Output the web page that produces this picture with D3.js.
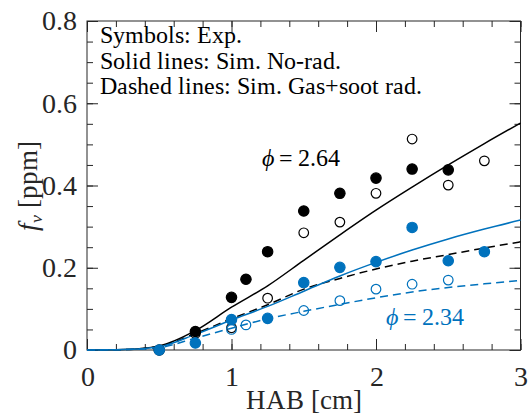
<!DOCTYPE html>
<html>
<head>
<meta charset="utf-8">
<script src="https://cdn.jsdelivr.net/npm/d3@7"></script>
<style>
  @font-face { font-family: "PlotSerif"; src: local("Liberation Serif"), local("LiberationSerif"), local("LiberationSerif-Regular"); font-style: normal; }
  @font-face { font-family: "PlotSerif"; src: local("Liberation Serif Italic"), local("LiberationSerif-Italic"); font-style: italic; }
  svg text { font-family: "PlotSerif", "Liberation Serif", "Times New Roman", serif; }
</style>
</head>
<body style="margin:0">
<script>
// tick values and labels
const xTicks = [0, 1, 2, 3]
const yTicks = [0, 0.2, 0.4, 0.6, 0.8]
const yTickLabels = ["0", "0.2", "0.4", "0.6", "0.8"]

// simulation grid (HAB, cm)
const simX = [0, 0.25, 0.5, 0.75, 1.0, 1.25, 1.5, 1.75, 2.0, 2.25, 2.5, 2.75, 3.0]
// phi = 2.64
const blackSolid  = [0, 0.001, 0.010, 0.047, 0.104, 0.156, 0.218, 0.280, 0.340, 0.396, 0.450, 0.502, 0.552]
const blackDashed = [0, 0.001, 0.009, 0.040, 0.076, 0.110, 0.148, 0.174, 0.197, 0.216, 0.232, 0.248, 0.263]
// phi = 2.34
const blueSolid   = [0, 0.001, 0.008, 0.038, 0.073, 0.106, 0.143, 0.180, 0.213, 0.243, 0.270, 0.294, 0.316]
const blueDashed  = [0, 0.001, 0.006, 0.029, 0.053, 0.076, 0.094, 0.111, 0.127, 0.141, 0.152, 0.161, 0.169]

// experiments
const blackFilledX = [0.5, 0.75, 1.0, 1.1, 1.25, 1.5, 1.75, 2.0, 2.25, 2.5]
const blackFilledY = [0.0, 0.045, 0.128, 0.172, 0.239, 0.338, 0.381, 0.418, 0.440, 0.438]
const blackOpenX = [0.75, 1.0, 1.25, 1.5, 1.75, 2.0, 2.25, 2.5, 2.75]
const blackOpenY = [0.040, 0.054, 0.126, 0.285, 0.311, 0.381, 0.513, 0.401, 0.460]
const blueFilledX = [0.5, 0.75, 1.0, 1.25, 1.5, 1.75, 2.0, 2.25, 2.5, 2.75]
const blueFilledY = [0.0, 0.017, 0.074, 0.077, 0.164, 0.201, 0.215, 0.298, 0.217, 0.239]
const blueOpenX = [1.0, 1.1, 1.5, 1.75, 2.0, 2.25, 2.5]
const blueOpenY = [0.050, 0.061, 0.096, 0.120, 0.148, 0.160, 0.170]

const legendLines = ["Symbols: Exp.", "Solid lines: Sim. No-rad.", "Dashed lines: Sim. Gas+soot rad."]

const w = 528
const h = 420
const blue = "#0072BD"
const black = "#000000"
const axisColor = "#262626"

const scaleX = d3.scaleLinear().domain([0, 3]).range([87, 520.5])
const scaleY = d3.scaleLinear().domain([0, 0.8]).range([350, 21])

const svg = d3.select("body").append("svg")
  .attr("width", w)
  .attr("height", h)
  .style("display", "block")

// ticks on all four sides, pointing in (minor then major)
const xMinor = d3.range(0, 3.001, 0.2)
const yMinor = d3.range(0, 0.8001, 0.05)
const addAxis = (axis, tx, ty) => {
  const g = svg.append("g")
    .attr("transform", `translate(${tx}, ${ty})`)
    .call(axis)
  g.attr("font-family", null).attr("font-size", 28)
  g.select(".domain").remove()
  g.selectAll("line").attr("stroke", axisColor)
  g.selectAll("text").attr("fill", axisColor)
  return g
}
addAxis(d3.axisBottom(scaleX).tickValues(xMinor).tickSize(-6).tickFormat(""), 0, scaleY(0))
addAxis(d3.axisTop(scaleX).tickValues(xMinor).tickSize(-6).tickFormat(""), 0, scaleY(0.8))
addAxis(d3.axisLeft(scaleY).tickValues(yMinor).tickSize(-6).tickFormat(""), scaleX(0), 0)
addAxis(d3.axisRight(scaleY).tickValues(yMinor).tickSize(-6).tickFormat(""), scaleX(3), 0)
addAxis(d3.axisBottom(scaleX).tickValues(xTicks).tickSize(-11).tickPadding(16).tickFormat(d3.format("d")), 0, scaleY(0))
addAxis(d3.axisTop(scaleX).tickValues(xTicks).tickSize(-11).tickFormat(""), 0, scaleY(0.8))
addAxis(d3.axisLeft(scaleY).tickValues(yTicks).tickSize(-11).tickPadding(10).tickFormat((d, i) => yTickLabels[i]), scaleX(0), 0)
addAxis(d3.axisRight(scaleY).tickValues(yTicks).tickSize(-11).tickFormat(""), scaleX(3), 0)

// box
svg.append("rect")
  .attr("x", scaleX(0)).attr("y", scaleY(0.8))
  .attr("width", scaleX(3) - scaleX(0)).attr("height", scaleY(0) - scaleY(0.8))
  .attr("fill", "none").attr("stroke", axisColor).attr("stroke-width", 1)

// simulation lines
const line = d3.line()
  .x((d) => scaleX(d[0]))
  .y((d) => scaleY(d[1]))
  .curve(d3.curveMonotoneX)

const series = [
  { y: blackSolid, color: black, dash: null },
  { y: blackDashed, color: black, dash: "8,5" },
  { y: blueSolid, color: blue, dash: null },
  { y: blueDashed, color: blue, dash: "8,5" }
]
series.forEach((s) => {
  svg.append("path")
    .datum(simX.map((x, i) => [x, s.y[i]]))
    .attr("d", line)
    .attr("fill", "none")
    .attr("stroke", s.color)
    .attr("stroke-width", 1.5)
    .attr("stroke-dasharray", s.dash)
})

// experimental symbols
const markers = [
  { x: blackOpenX, y: blackOpenY, color: black, filled: false },
  { x: blackFilledX, y: blackFilledY, color: black, filled: true },
  { x: blueOpenX, y: blueOpenY, color: blue, filled: false },
  { x: blueFilledX, y: blueFilledY, color: blue, filled: true }
]
markers.forEach((m) => {
  svg.append("g").selectAll("circle")
    .data(m.x.map((x, i) => [x, m.y[i]]))
    .enter()
    .append("circle")
    .attr("cx", (d) => scaleX(d[0]))
    .attr("cy", (d) => scaleY(d[1]))
    .attr("r", m.filled ? 5.2 : 4.8)
    .attr("fill", m.filled ? m.color : "none")
    .attr("stroke", m.color)
    .attr("stroke-width", 1.2)
})

// legend text
legendLines.forEach((t, i) => {
  svg.append("text")
    .attr("x", 100)
    .attr("y", 43 + i * 25.7)
    .attr("font-size", 24)
    .attr("fill", "#000")
    .text(t)
})

// phi annotations
const phiLabel = (x, y, color, val) => {
  const t = svg.append("text").attr("x", x).attr("y", y)
    .attr("font-size", 24).attr("fill", color)
  t.append("tspan").attr("font-style", "italic").text("\u03D5")
  t.append("tspan").text("\u2009=\u2009" + val)
}
phiLabel(262, 166, black, "2.64")
phiLabel(386, 325, blue, "2.34")

// axis labels
svg.append("text")
  .attr("x", scaleX(1.5)).attr("y", 409)
  .attr("text-anchor", "middle")
  .attr("font-size", 27)
  .attr("fill", axisColor)
  .text("HAB [cm]")

const yl = svg.append("text")
  .attr("transform", "translate(37, 186) rotate(-90)")
  .attr("text-anchor", "middle")
  .attr("font-size", 27)
  .attr("fill", axisColor)
yl.append("tspan").attr("font-style", "italic").text("f")
yl.append("tspan").attr("font-style", "italic").attr("font-size", 18).attr("dy", 5).text("v")
yl.append("tspan").attr("dy", -5).text(" [ppm]")
</script>
</body>
</html>
